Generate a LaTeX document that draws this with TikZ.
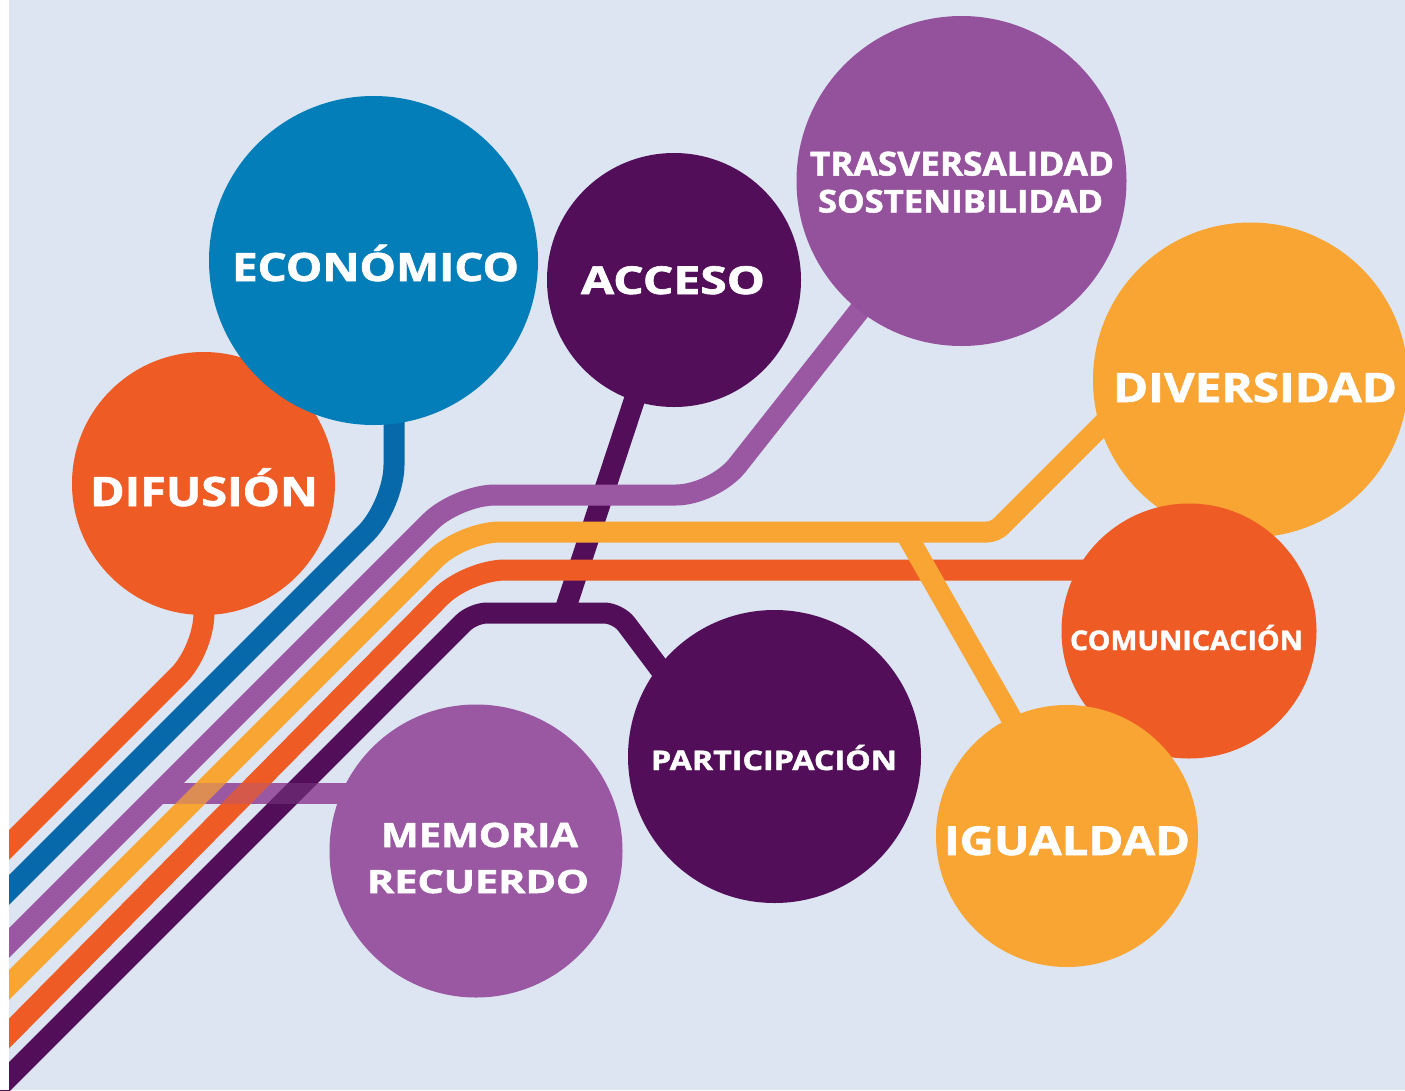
\documentclass[tikz,border=0pt]{standalone}
\usepackage{fontspec}
\setmainfont{Open Sans}[BoldFeatures={FakeBold=1.5}]
\usepackage{graphicx}
\definecolor{bgc}{HTML}{DCE5F1}
\definecolor{cblue}{HTML}{037EB9}
\definecolor{lblue}{HTML}{0769A9}
\definecolor{cdark}{HTML}{520E58}
\definecolor{cpurp}{HTML}{95529C}
\definecolor{lpurp}{HTML}{9A57A2}
\definecolor{corange}{HTML}{EE5B24}
\definecolor{cyellow}{HTML}{F8A533}
\newcommand\fitw[3]{\resizebox{#1pt}{\height}{\fontsize{#2pt}{#2pt}\selectfont\bfseries #3}}
\pgfdeclarelayer{back}
\pgfdeclarelayer{lines}
\pgfsetlayers{back,lines,main}
\tikzset{
  disc/.style={circle, inner sep=0pt, minimum size=#1},
  lbl/.style={text=white, inner sep=0pt, anchor=base},
  track/.style={line width=21pt},
}
\begin{document}
\begin{tikzpicture}[x=1pt,y=-1pt]
\useasboundingbox (0,0) rectangle (1405,1090);
\begin{pgfonlayer}{back}
\fill[white] (0,0) rectangle (1405,1090);
\fill[bgc] (9,0) rectangle (1405,1090);
\end{pgfonlayer}

% circles
\node[disc=263pt, fill=corange] (dif) at (203.5,483.5) {};
\node[disc=329pt, fill=cblue] (eco) at (373.5,260.5) {};
\node[disc=254pt, fill=cdark] (acc) at (674,280) {};
\node[disc=330pt, fill=cpurp] (tra) at (961.5,181) {};
\node[disc=315pt, fill=cyellow] (div) at (1250.5,380) {};
\node[disc=255pt, fill=corange] (com) at (1189,631) {};
\node[disc=262pt, fill=cyellow] (igu) at (1067,836) {};
\node[disc=293pt, fill=cdark] (par) at (774.5,756.5) {};
\node[disc=293pt, fill=lpurp] (mem) at (476,851) {};

% labels
\node[lbl] (dif-t) at (204,506) {\fitw{228}{40.5}{DIFUSIÓN}};
\node[lbl] (eco-t) at (375.5,281) {\fitw{287}{39}{ECONÓMICO}};
\node[lbl] (acc-t) at (673,294) {\fitw{184}{38.5}{ACCESO}};
\node[lbl] (tra-t1) at (962,175.5) {\fitw{304}{33}{TRASVERSALIDAD}};
\node[lbl] (tra-t2) at (960.5,212.5) {\fitw{285}{31.5}{SOSTENIBILIDAD}};
\node[lbl] (div-t) at (1255,402) {\fitw{284}{40.5}{DIVERSIDAD}};
\node[lbl] (com-t) at (1186.5,650) {\fitw{233}{27}{COMUNICACIÓN}};
\node[lbl] (par-t) at (774,770) {\fitw{246}{27}{PARTICIPACIÓN}};
\node[lbl] (igu-t) at (1067,855) {\fitw{246}{40}{IGUALDAD}};
\node[lbl] (mem-t1) at (479.5,847) {\fitw{197}{33.5}{MEMORIA}};
\node[lbl] (mem-t2) at (478,893) {\fitw{222}{32}{RECUERDO}};

% connector anchor points
\coordinate (memj) at (159,793);
\coordinate (memin) at (370,793);
\coordinate (accj) at (564,613);
\coordinate (parin) at (690,709);
\coordinate (parc) at (618,613);
\coordinate (parl) at (473,613);
\coordinate (pare) at (-30,1116);
\coordinate (comin) at (1120,570);
\coordinate (coml) at (467,570);
\coordinate (come) at (-30,1073);
\coordinate (divin) at (1115,412);
\coordinate (divc) at (995,532);
\coordinate (divl) at (462,532);
\coordinate (dive) at (-30,1024);
\coordinate (iguj) at (905,532);
\coordinate (iguin) at (1030,751);
\coordinate (trac) at (714,495);
\coordinate (tral) at (457,495);
\coordinate (trae) at (-30,982);
\coordinate (ecoin) at (394,400);
\coordinate (ecoc) at (394,505);
\coordinate (ecoe) at (-30,929);
\coordinate (difc) at (204,650);
\coordinate (dife) at (-30,884);

\begin{pgfonlayer}{lines}
\draw[track, lpurp] (memj) -- (memin);
\draw[track, cdark] (acc.center) -- (accj);
\draw[track, cdark, rounded corners=14pt] (parin) -- (parc) -- (parl) -- (pare);
\draw[track, corange, rounded corners=38pt] (comin) -- (coml) -- (come);
\draw[track, cyellow] (iguj) -- (iguin);
\draw[track, cyellow, rounded corners=8pt] (divin) -- (divc) -- (iguj);
\draw[track, cyellow, rounded corners=38pt] (iguj) -- (divl) -- (dive);
\draw[track, lpurp, rounded corners=38pt] (tra.center) -- (trac) -- (tral) -- (trae);
\draw[track, lblue, rounded corners=40pt] (ecoin) -- (ecoc) -- (ecoe);
\draw[track, corange, rounded corners=36pt] (dif.center) -- (difc) -- (dife);
\draw[track, lpurp, opacity=0.3] (memj) -- (memin);
\end{pgfonlayer}

\fill[white] (0,0) rectangle (9,1090);
\end{tikzpicture}
\end{document}
